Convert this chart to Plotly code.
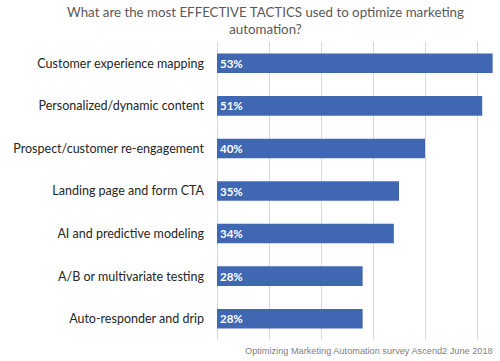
import plotly.graph_objects as go

categories = [
    "Customer experience mapping",
    "Personalized/dynamic content",
    "Prospect/customer re-engagement",
    "Landing page and form CTA",
    "AI and predictive modeling",
    "A/B or multivariate testing",
    "Auto-responder and drip",
]
values = [53, 51, 40, 35, 34, 28, 28]
labels = [f"{v}%" for v in values]

title_lines = ["What are the most EFFECTIVE TACTICS used to optimize marketing", "automation?"]
source_text = "Optimizing Marketing Automation survey Ascend2 June 2018"

fig = go.Figure()
fig.add_trace(go.Bar(
    y=categories, x=values, orientation="h",
    marker=dict(color="#4067B1", line=dict(width=0)),
    text=labels, textposition="inside", insidetextanchor="start",
    textfont=dict(family="Lato", size=11.5, color="white", weight="bold"),
    cliponaxis=False,
))

fig.update_layout(
    width=500, height=361,
    margin=dict(l=217, r=4, t=42, b=21, autoexpand=False),
    paper_bgcolor="white", plot_bgcolor="white",
    showlegend=False,
    bargap=0.54,
    font=dict(family="Lato", color="#262626"),
    xaxis=dict(range=[0, 53.65], dtick=10, showticklabels=False,
               showgrid=True, gridcolor="#D9D9D9", gridwidth=1,
               zeroline=True, zerolinecolor="#D9D9D9", zerolinewidth=1,
               showline=False, fixedrange=True, automargin=False),
    yaxis=dict(categoryorder="array", categoryarray=categories[::-1],
               autorange=True, showgrid=False, showline=False, automargin=False,
               ticks="", ticklabelstandoff=12,
               tickfont=dict(family="Lato", size=12.5, color="#262626")),
    annotations=[
        dict(text="<br>".join(title_lines),
             x=(265 - 217) / (500 - 217 - 4), y=1, xref="paper", yref="paper",
             yanchor="bottom", yshift=3, xanchor="center", align="center",
             showarrow=False,
             font=dict(family="Lato", size=13.3, color="#595959")),
        dict(text=source_text, x=1, y=0, xref="paper", yref="paper",
             xanchor="right", yanchor="top", yshift=-4, xshift=-1,
             showarrow=False,
             font=dict(family="Liberation Sans", size=9.2, color="#808080")),
    ],
)

fig.write_html("out.html", config={"displayModeBar": False},
               post_script="document.body.style.margin='0px';")
